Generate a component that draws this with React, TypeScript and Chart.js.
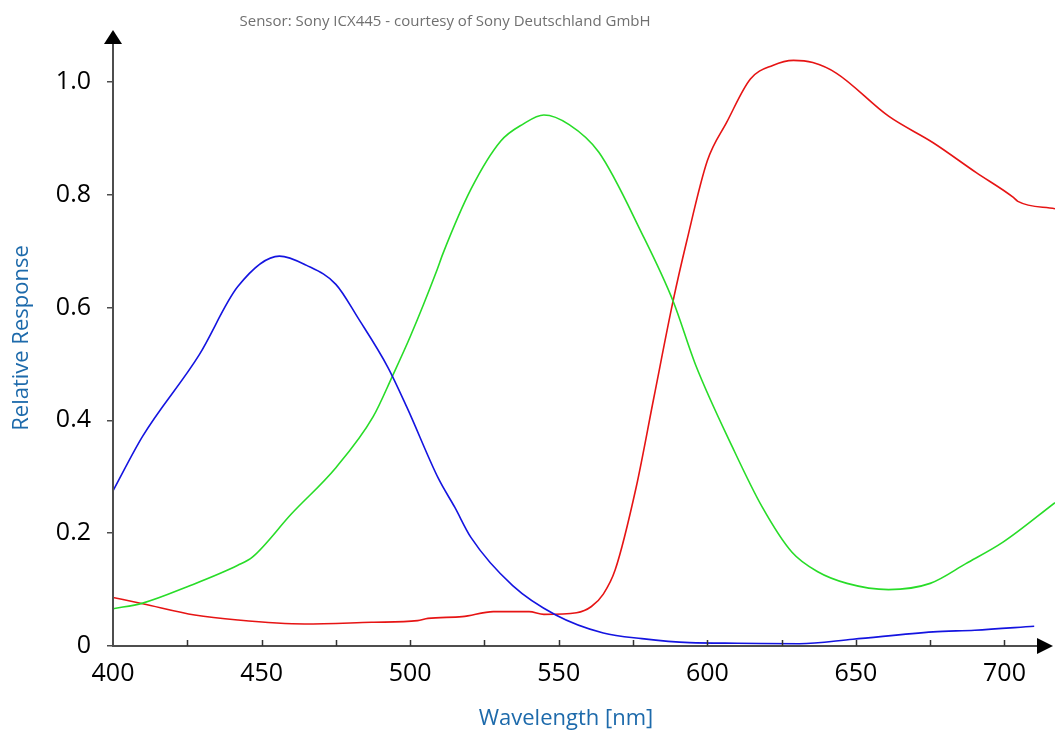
import React, { useEffect, useRef } from 'react';
import { Chart, registerables } from 'chart.js';

Chart.register(...registerables);

// ---- data ----
const blueNm = [400, 410, 429, 442, 456, 465, 475, 482.5, 492.5, 499, 509.5, 515, 520.5, 534.5, 549, 565, 578, 594, 610, 631, 649, 676, 690, 710];
const blueVal = [0.275, 0.372, 0.516, 0.637, 0.691, 0.675, 0.641, 0.581, 0.494, 0.422, 0.297, 0.246, 0.192, 0.107, 0.055, 0.023, 0.013, 0.006, 0.005, 0.004, 0.012, 0.025, 0.028, 0.035];

const greenNm = [400, 410, 425, 442, 447, 460, 475, 487.5, 494, 500, 509, 511, 520.5, 530.5, 538, 545, 553.5, 563.5, 578, 588.5, 596, 608.5, 618.5, 628.5, 637, 647, 661, 675, 687, 699.5, 717];
const greenVal = [0.066, 0.076, 0.105, 0.143, 0.158, 0.234, 0.316, 0.406, 0.478, 0.548, 0.666, 0.695, 0.81, 0.895, 0.925, 0.941, 0.924, 0.875, 0.731, 0.611, 0.499, 0.352, 0.246, 0.166, 0.132, 0.111, 0.1, 0.111, 0.146, 0.184, 0.254];

const redNm = [400, 410, 427.5, 442, 464.5, 487, 502.5, 506, 517.5, 528, 540, 545, 556, 561, 565, 569, 576, 582, 588.5, 593, 600, 606.5, 614.5, 622, 629, 635.5, 643.5, 661, 676, 690.5, 703, 704.5, 717];
const redVal = [0.086, 0.075, 0.055, 0.046, 0.039, 0.042, 0.045, 0.049, 0.052, 0.061, 0.061, 0.056, 0.059, 0.07, 0.092, 0.135, 0.28, 0.44, 0.612, 0.716, 0.86, 0.928, 1.005, 1.029, 1.038, 1.034, 1.015, 0.939, 0.892, 0.839, 0.795, 0.788, 0.775];

const xMin = 400;
const xMax = 717;
const xTickStep = 25;
const xLabelStep = 50;
const yMin = 0;
const yMax = 1.09;
const yTickStep = 0.2;

const chartTitle = 'Sensor: Sony ICX445 - courtesy of Sony Deutschland GmbH';
const xTitle = 'Wavelength [nm]';
const yTitle = 'Relative Response';

const FONT = '"Open Sans", "Noto Sans", sans-serif';

function toPoints(xs: number[], ys: number[]) {
  return xs.map((x, i) => ({ x, y: ys[i] }));
}

const decorPlugin = {
  id: 'decor',
  afterDraw(chart: any) {
    const { ctx, chartArea: a, scales } = chart;
    const xs = scales.x;
    ctx.save();
    // axis lines
    ctx.strokeStyle = '#4d4d4d';
    ctx.lineWidth = 2;
    ctx.beginPath();
    ctx.moveTo(a.left, a.top + 12);
    ctx.lineTo(a.left, a.bottom);
    ctx.lineTo(a.right - 14, a.bottom);
    ctx.stroke();
    // x tick marks pointing up
    ctx.lineWidth = 1.5;
    ctx.strokeStyle = '#333';
    ctx.beginPath();
    xs.ticks.forEach((t: any) => {
      if (t.value <= xs.min) return;
      const px = Math.round(xs.getPixelForValue(t.value)) + 0.5;
      ctx.moveTo(px, a.bottom);
      ctx.lineTo(px, a.bottom - 6);
    });
    ctx.stroke();
    // arrows
    ctx.fillStyle = '#000';
    ctx.beginPath();
    ctx.moveTo(a.left, a.top - 1);
    ctx.lineTo(a.left - 9, a.top + 13);
    ctx.lineTo(a.left + 9, a.top + 13);
    ctx.closePath();
    ctx.fill();
    ctx.beginPath();
    ctx.moveTo(a.right - 2, a.bottom);
    ctx.lineTo(a.right - 18, a.bottom - 8);
    ctx.lineTo(a.right - 18, a.bottom + 8);
    ctx.closePath();
    ctx.fill();
    // texts
    ctx.textAlign = 'center';
    ctx.textBaseline = 'alphabetic';
    ctx.fillStyle = '#707070';
    ctx.font = `15px ${FONT}`;
    ctx.fillText(chartTitle, 445, 26);
    ctx.fillStyle = '#1d6aab';
    ctx.font = `22px ${FONT}`;
    ctx.fillText(xTitle, 566, 725);
    ctx.translate(28, 338);
    ctx.rotate(-Math.PI / 2);
    ctx.fillText(yTitle, 0, 0);
    ctx.restore();
  },
};

export default function App() {
  const ref = useRef<HTMLCanvasElement | null>(null);

  useEffect(() => {
    if (!ref.current) return;
    const line = (label: string, xs: number[], ys: number[], color: string) => ({
      label,
      data: toPoints(xs, ys),
      borderColor: color,
      backgroundColor: color,
      borderWidth: 1.6,
      pointRadius: 0,
      cubicInterpolationMode: 'monotone' as const,
      fill: false,
    });
    const chart = new Chart(ref.current, {
      type: 'line',
      data: {
        datasets: [
          line('Blue', blueNm, blueVal, '#1414e0'),
          line('Green', greenNm, greenVal, '#28dc28'),
          line('Red', redNm, redVal, '#e61414'),
        ],
      },
      options: {
        responsive: false,
        animation: false,
        devicePixelRatio: 1,
        layout: { padding: { top: 28, left: 0, right: 0, bottom: 0 } },
        plugins: { legend: { display: false }, tooltip: { enabled: false }, title: { display: false } },
        scales: {
          x: {
            type: 'linear',
            min: xMin,
            max: xMax,
            afterFit: (s: any) => { s.height = 89; },
            grid: { display: false, drawTicks: false },
            border: { display: false },
            ticks: {
              stepSize: xTickStep,
              includeBounds: false,
              autoSkip: false,
              maxRotation: 0,
              padding: 13,
              color: '#000',
              font: { family: FONT, size: 25 },
              callback: (v: any) => (Number(v) % xLabelStep === 0 ? String(v) : ''),
            },
          },
          y: {
            type: 'linear',
            min: yMin,
            max: yMax,
            afterFit: (s: any) => { s.width = 113; },
            grid: { drawOnChartArea: false, drawTicks: true, tickLength: 6, color: '#4d4d4d', lineWidth: 1.5 },
            border: { display: false },
            ticks: {
              stepSize: yTickStep,
              includeBounds: false,
              padding: 16,
              color: '#000',
              font: { family: FONT, size: 25 },
              callback: (v: any) => (Number(v) === 0 ? '0' : Number(v).toFixed(1)),
            },
          },
        },
      },
      plugins: [decorPlugin],
    });
    return () => chart.destroy();
  }, []);

  return (
    <div style={{ position: 'fixed', left: 0, top: 0, width: 1055, height: 735, background: '#fff' }}>
      <canvas ref={ref} width={1055} height={735} style={{ display: 'block' }} />
    </div>
  );
}
